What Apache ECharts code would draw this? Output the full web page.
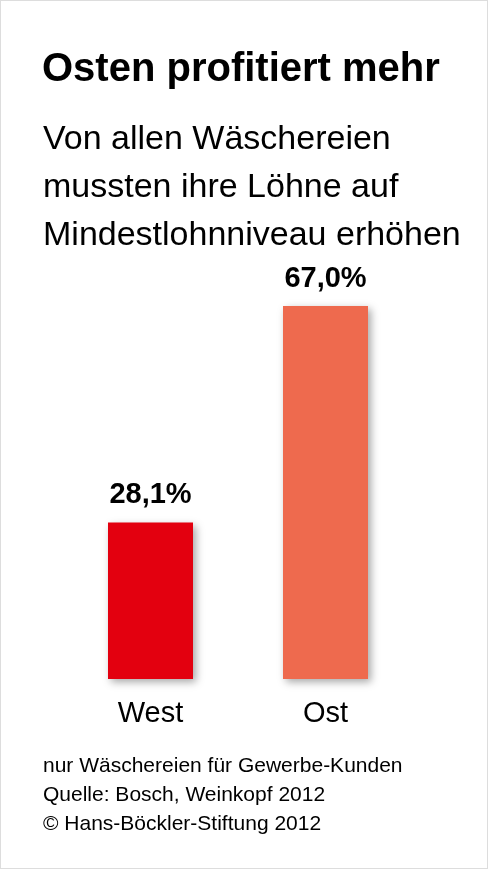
<!DOCTYPE html>
<html lang="de">
<head>
<meta charset="UTF-8">
<title>Osten profitiert mehr</title>
<script src="https://cdn.jsdelivr.net/npm/echarts@6/dist/echarts.min.js"></script>
<style>
    body { margin: 0; background: #fff; }
    #main { width: 488px; height: 869px; box-sizing: border-box; border: 1px solid #ddd; }
</style>
</head>
<body>
<div id="main"></div>
<script>
    var categories = ['West', 'Ost'];
    var values = [28.1, 67.0];
    var colors = ['#e3000f', '#ee6a4e'];

    var myChart = echarts.init(document.getElementById('main'));
    var font = 'Liberation Sans, Arial, sans-serif';

    var option = {
        backgroundColor: '#fff',
        title: [
            {
                text: 'Osten profitiert mehr',
                left: 36, top: 44,
                textStyle: { fontFamily: font, fontSize: 40, fontWeight: 'bold', color: '#000' }
            },
            {
                text: 'Von allen Wäschereien\nmussten ihre Löhne auf\nMindestlohnniveau erhöhen',
                left: 37, top: 110,
                textStyle: { fontFamily: font, fontSize: 34, fontWeight: 'normal', color: '#000', lineHeight: 48 }
            },
            {
                text: 'nur Wäschereien für Gewerbe-Kunden\nQuelle: Bosch, Weinkopf 2012\n© Hans-Böckler-Stiftung 2012',
                left: 37, top: 746,
                textStyle: { fontFamily: font, fontSize: 21, fontWeight: 'normal', color: '#000', lineHeight: 29 }
            }
        ],
        grid: { left: 62, right: 74, top: 305, bottom: 189 },
        xAxis: {
            type: 'category',
            data: categories,
            axisLine: { show: false },
            axisTick: { show: false },
            axisLabel: { fontFamily: font, fontSize: 29, color: '#000', margin: 20 }
        },
        yAxis: {
            type: 'value', min: 0, max: 67,
            show: false
        },
        series: [{
            type: 'bar',
            barWidth: 85,
            data: values.map(function (v, i) {
                return {
                    value: v,
                    itemStyle: {
                        color: colors[i],
                        shadowColor: 'rgba(0,0,0,0.35)',
                        shadowBlur: 8,
                        shadowOffsetX: 3,
                        shadowOffsetY: 3
                    }
                };
            }),
            label: {
                show: true,
                position: 'top',
                distance: 13,
                fontFamily: font,
                fontSize: 29,
                fontWeight: 'bold',
                color: '#000',
                formatter: function (p) { return p.value.toFixed(1).replace('.', ',') + '%'; }
            }
        }]
    };

    myChart.setOption(option);
</script>
</body>
</html>
